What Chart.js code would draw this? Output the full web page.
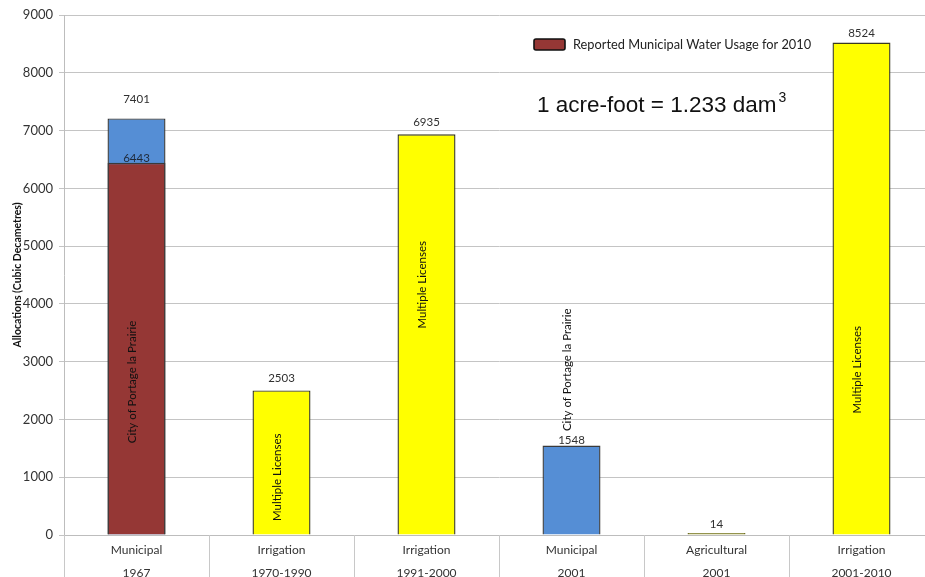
<!DOCTYPE html>
<html><head><meta charset="utf-8">
<script src="https://cdn.jsdelivr.net/npm/chart.js@4"></script>
<style>html,body{margin:0;padding:0;overflow:hidden;background:#fff}
#wrap{position:relative;width:935px;height:584px}</style></head>
<body><div id="wrap"><canvas id="c"></canvas></div>
<script>
// ---- data ----
const categories = [["Municipal","1967"],["Irrigation","1970-1990"],["Irrigation","1991-2000"],["Municipal","2001"],["Agricultural","2001"],["Irrigation","2001-2010"]];
const allocations = [7210, 2503, 6935, 1548, 14, 8524];
const allocationLabels = ["7401","2503","6935","1548","14","8524"];
const reportedUsage = [6443, null, null, null, null, null];
const reportedLabels = ["6443","","","","",""];
const barNotes = ["City of Portage la Prairie","Multiple Licenses","Multiple Licenses","City of Portage la Prairie","","Multiple Licenses"];
const yMin = 0, yMax = 9000, yStep = 1000;
const legendText = "Reported Municipal Water Usage for 2010";
const yTitle = "Allocations (Cubic Decametres)";
const conversionText = "1 acre-foot = 1.233 dam";
const conversionSup = "3";

// ---- styles / positions ----
const FONT = "Lato, 'Open Sans', sans-serif";
const YELLOW = "#ffff00", RED = "#953735", BLUE = "#558ed5";
const allocColors = [BLUE, YELLOW, YELLOW, BLUE, "#9a9a30", YELLOW];
const allocBorders = ["#3a3a3a", "#3a3a20", "#3a3a20", "#3a3a3a", "#6e6e22", "#3a3a20"];
const labelGap = [6, 6, 6, 0, 3, 3];
const noteCenter = [2650, 1000, 4330, 2860, null, 2860]; // y (data units) of rotated note centres

const overlay = {
  id: 'overlay',
  afterDatasetsDraw(chart) {
    const ctx = chart.ctx, xs = chart.scales.x, ys = chart.scales.y, ca = chart.chartArea;
    const mAlloc = chart.getDatasetMeta(1), mRep = chart.getDatasetMeta(0);
    ctx.save();
    // category separators below the axis
    ctx.strokeStyle = '#c8c8c8'; ctx.lineWidth = 1;
    for (let i = 0; i <= categories.length; i++) {
      const x = Math.round(xs.getPixelForValue(i - 0.5)) + 0.5;
      ctx.beginPath(); ctx.moveTo(x, ca.bottom); ctx.lineTo(x, chart.height); ctx.stroke();
    }
    // value labels
    ctx.font = "11.5px " + FONT; ctx.fillStyle = '#303030';
    ctx.textAlign = 'center'; ctx.textBaseline = 'bottom';
    mAlloc.data.forEach((bar, i) => {
      ctx.fillText(allocationLabels[i], bar.x, (i === 0 ? ys.getPixelForValue(7401) + 4 : bar.y) - labelGap[i]);
    });
    mRep.data.forEach((bar, i) => {
      if (reportedUsage[i] == null) return;
      ctx.fillStyle = '#1f2a3a';
      ctx.fillText(reportedLabels[i], bar.x, bar.y + 1);
    });
    // rotated notes
    ctx.font = "11.5px " + FONT; ctx.fillStyle = '#111'; ctx.textBaseline = 'middle';
    mAlloc.data.forEach((bar, i) => {
      if (!barNotes[i]) return;
      ctx.save();
      ctx.translate(bar.x - 4, ys.getPixelForValue(noteCenter[i]));
      ctx.rotate(-Math.PI / 2);
      ctx.fillText(barNotes[i], 0, 0);
      ctx.restore();
    });
    // legend
    const lx = 534, ly = 39;
    ctx.fillStyle = RED; ctx.strokeStyle = '#111'; ctx.lineWidth = 1.6;
    ctx.beginPath();
    if (ctx.roundRect) ctx.roundRect(lx, ly, 31, 11, 2); else ctx.rect(lx, ly, 31, 11);
    ctx.fill(); ctx.stroke();
    ctx.fillStyle = '#222'; ctx.font = "12.8px " + FONT; ctx.textAlign = 'left'; ctx.textBaseline = 'middle';
    ctx.fillText(legendText, 573, ly + 6);
    // conversion note
    ctx.font = "22.5px 'Liberation Sans', Arial, sans-serif"; ctx.fillStyle = '#111'; ctx.textBaseline = 'alphabetic';
    ctx.fillText(conversionText, 537, 112);
    const w = ctx.measureText(conversionText).width;
    ctx.font = "14px 'Liberation Sans', Arial, sans-serif";
    ctx.fillText(conversionSup, 537 + w + 2, 102);
    ctx.restore();
  }
};

new Chart(document.getElementById('c'), {
  type: 'bar',
  data: {
    labels: categories,
    datasets: [
      { label: legendText, data: reportedUsage, backgroundColor: RED, borderColor: '#3a3a3a', borderWidth: 1.4, grouped: false, barPercentage: 0.4, categoryPercentage: 1 },
      { label: 'Allocations', data: allocations, backgroundColor: allocColors, borderColor: allocBorders, borderWidth: 1.4, grouped: false, barPercentage: 0.4, categoryPercentage: 1, minBarLength: 2 }
    ]
  },
  options: {
    responsive: true, maintainAspectRatio: false, animation: false,
    layout: { padding: { top: 15, right: 1, left: 0, bottom: 0 } },
    plugins: { legend: { display: false }, tooltip: { enabled: false } },
    scales: {
      x: {
        grid: { display: false },
        border: { display: true, color: '#bdbdbd' },
        ticks: { font: { family: FONT, size: 12, lineHeight: 1.9 }, color: '#333', padding: -4, maxRotation: 0, autoSkip: false },
        afterFit(s) { s.height = 49; }
      },
      y: {
        min: yMin, max: yMax,
        grid: { color: '#c4c4c4', tickLength: 5, drawTicks: true },
        border: { display: true, color: '#bdbdbd' },
        ticks: { stepSize: yStep, font: { family: FONT, size: 13 }, color: '#333', padding: 6, callback: v => String(v) },
        title: { display: true, text: yTitle, font: { family: FONT, size: 10.5, weight: 'bold' }, color: '#111', padding: { top: 11, bottom: 0 } },
        afterFit(s) { s.width = 64; }
      }
    }
  },
  plugins: [overlay]
});
</script></body></html>
